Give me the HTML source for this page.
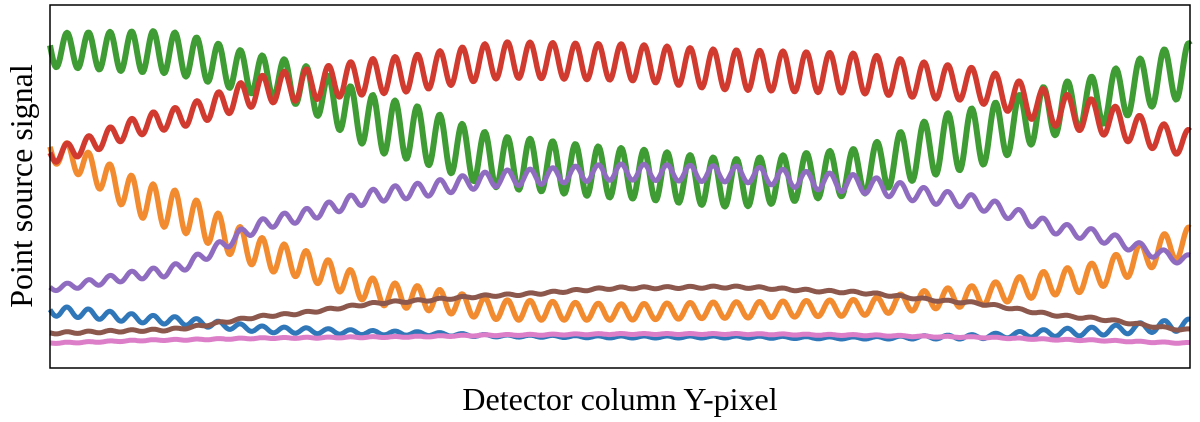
<!DOCTYPE html>
<html><head><meta charset="utf-8"><style>
html,body{margin:0;padding:0;background:#fff;}
svg{display:block;}
</style></head><body>
<svg id="chart" width="1200" height="422" viewBox="0 0 1200 422">
<rect x="0" y="0" width="1200" height="422" fill="#fff"/>
<g id="series"></g>
<rect x="50" y="5" width="1140" height="363" fill="none" stroke="#000" stroke-width="1.5"/>
<text x="620" y="410" text-anchor="middle" font-family="Liberation Serif, serif" font-size="32" fill="#000">Detector column Y-pixel</text>
<text transform="translate(32,186) rotate(-90)" text-anchor="middle" font-family="Liberation Serif, serif" font-size="32" fill="#000">Point source signal</text>
</svg>
<script>
// sample positions along detector (fraction of width)
const samplePos = [0,0.1,0.2,0.3,0.4,0.5,0.6,0.7,0.8,0.9,1];
// fringe period (detector columns, 1140 columns total) at each sample position
const fringePeriod = [21.4,21.7,22.0,22.3,22.6,22.9,23.2,23.5,23.8,24.1,24.4];
const fringePeakAt = 17; // column of first fringe peak
const nColumns = 1140;
const seriesNames = ['blue','orange','green','red','purple','brown','pink'];
const seriesColors = ['#2f77b8','#f28a30','#3f9c35','#d03a2f','#8f6cc0','#8c574c','#dc7fc8'];
const blueLevel   = [57,48,38,35,32,31,31,30,31,36,43];
const blueAmp     = [5,4,3,2,1,1,1,1,2,4,6];
const orangeLevel = [218,161,110,73,58,56,58,60,71,88,126];
const orangeAmp   = [12,20,15,12,10,8,8,8,10,13,15];
const greenLevel  = [318,316,290,240,205,195,185,195,228,263,298];
const greenAmp    = [17,21,20,28,26,25,24,23,30,25,27];
const redLevel    = [213,248,281,293,308,306,298,295,285,255,225];
const redAmp      = [8,10,15,18,18,18,20,20,17,17,13];
const purpleLevel = [80,96,148,175,190,196,194,185,168,136,108];
const purpleAmp   = [3,5,6,7,8,8,8,9,7,6,5];
const brownLevel  = [35,38,53,66,73,80,81,76,66,51,38];
const brownAmp    = [1,1,1,1,1,1,1,1,1,1,1];
const pinkLevel   = [25,28,30,31,33,34,34,33,31,28,25];
const pinkAmp     = [0.5,0.5,0.5,0.5,0.5,0.5,0.5,0.5,0.5,0.5,0.5];
const yDomain = [0,363];

const levels = [blueLevel,orangeLevel,greenLevel,redLevel,purpleLevel,brownLevel,pinkLevel];
const amps = [blueAmp,orangeAmp,greenAmp,redAmp,purpleAmp,brownAmp,pinkAmp];
const widths = [5,5.5,6,5.5,5,5,5];
const X0=50, X1=1190, Y0=368, Y1=5;
function xScale(f){return X0+f*(X1-X0);}
function yScale(v){return Y0-(v-yDomain[0])/(yDomain[1]-yDomain[0])*(Y0-Y1);}
function interp(arr,f){
  const n=samplePos.length-1;
  let i=Math.max(0,Math.min(n-1,Math.floor(f*n)));
  const t=(f-samplePos[i])/(samplePos[i+1]-samplePos[i]);
  const s=(1-Math.cos(Math.PI*t))/2;
  const a=arr[i], b=arr[i+1];
  return a+(b-a)*(0.5*t+0.5*s);
}
function linInterp(arr,f){
  const n=samplePos.length-1;
  let i=Math.max(0,Math.min(n-1,Math.floor(f*n)));
  const t=(f-samplePos[i])/(samplePos[i+1]-samplePos[i]);
  return arr[i]+(arr[i+1]-arr[i])*t;
}
// accumulated fringe phase (cycles) per column
const phase=[0];
for(let c=1;c<=nColumns;c++){phase.push(phase[c-1]+1/linInterp(fringePeriod,(c-0.5)/nColumns));}
const phase0=phase[fringePeakAt];
const g=document.getElementById('series');
levels.forEach((lv,k)=>{
  let d='';
  for(let i=0;i<=nColumns;i++){
    const f=i/nColumns;
    const v=interp(lv,f)+interp(amps[k],f)*Math.cos(2*Math.PI*(phase[i]-phase0));
    d+=(i?'L':'M')+xScale(f).toFixed(1)+' '+yScale(v).toFixed(1);
  }
  const p=document.createElementNS('http://www.w3.org/2000/svg','path');
  p.setAttribute('d',d);
  p.setAttribute('fill','none');
  p.setAttribute('stroke',seriesColors[k]);
  p.setAttribute('stroke-width',widths[k]);
  p.setAttribute('stroke-linejoin','round');
  
  
  g.appendChild(p);
});
</script>
</body></html>
